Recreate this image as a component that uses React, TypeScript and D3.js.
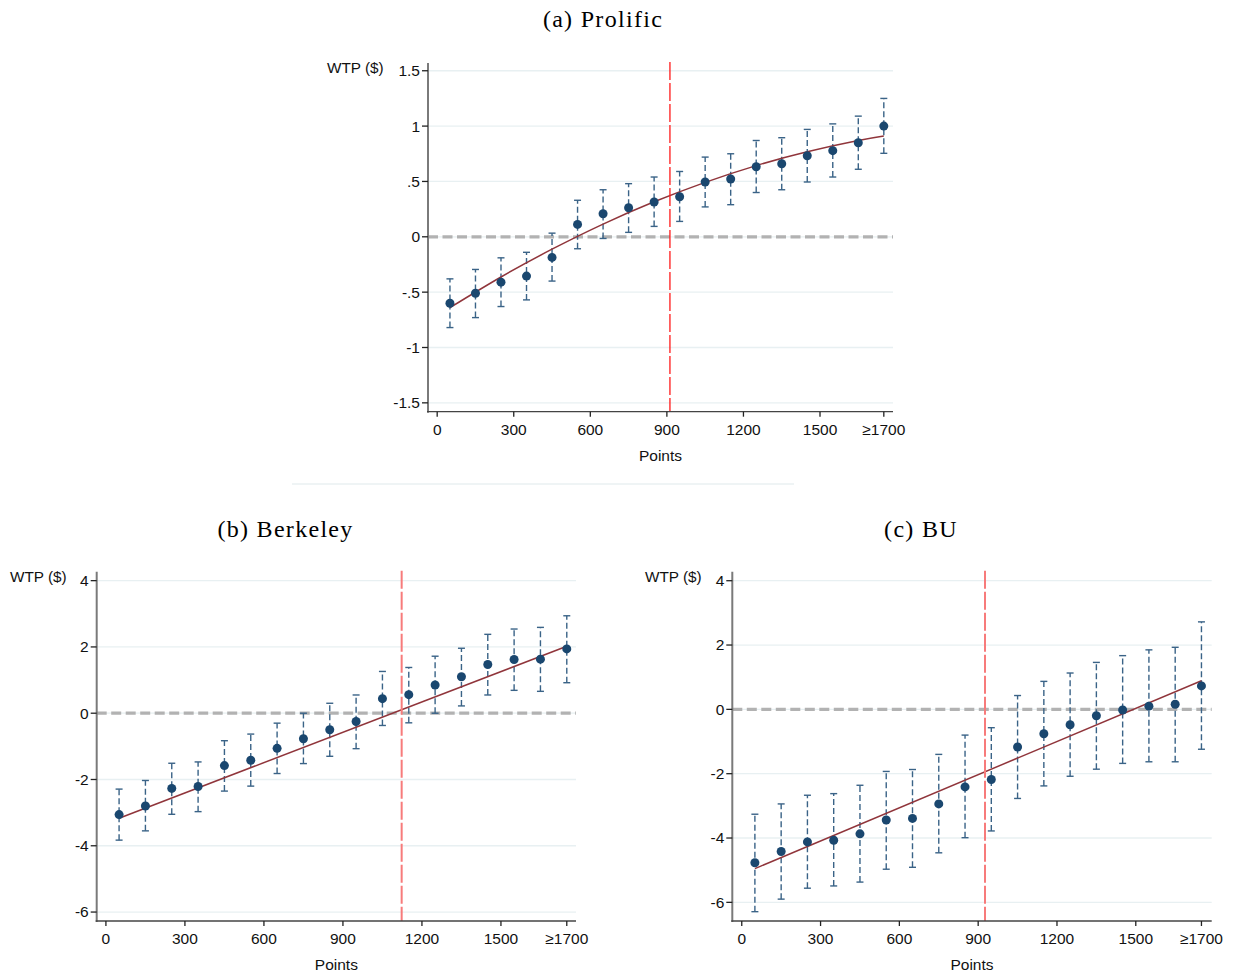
import React from "react";
import * as d3 from "d3";

// Bin midpoints (points) for every panel; the last bin is top-coded as ≥1700
const bins = [50, 150, 250, 350, 450, 550, 650, 750, 850, 950, 1050, 1150, 1250, 1350, 1450, 1550, 1650, 1750];
const xTickValues = [0, 300, 600, 900, 1200, 1500, 1750];
const xTickLabels = ["0", "300", "600", "900", "1200", "1500", "≥1700"];

// (a) Prolific
const prolificMean = [-0.60, -0.51, -0.41, -0.355, -0.186, 0.112, 0.208, 0.262, 0.314, 0.362, 0.495, 0.522, 0.633, 0.66, 0.732, 0.778, 0.85, 1.0];
const prolificLo = [-0.82, -0.73, -0.63, -0.57, -0.40, -0.108, -0.015, 0.04, 0.094, 0.139, 0.27, 0.29, 0.40, 0.425, 0.495, 0.54, 0.61, 0.754];
const prolificHi = [-0.38, -0.295, -0.19, -0.14, 0.033, 0.33, 0.425, 0.48, 0.54, 0.59, 0.72, 0.75, 0.87, 0.895, 0.97, 1.02, 1.09, 1.25];
const prolificFit: [number, number][] = [[50, -0.64], [250, -0.363], [450, -0.112], [650, 0.115], [850, 0.316], [1050, 0.492], [1250, 0.643], [1450, 0.768], [1650, 0.869], [1750, 0.91]];
const prolificYTicks = [1.5, 1, 0.5, 0, -0.5, -1, -1.5];
const prolificYLabels = ["1.5", "1", ".5", "0", "-.5", "-1", "-1.5"];
const prolificCutoff = 912;

// (b) Berkeley
const berkeleyMean = [-3.06, -2.80, -2.27, -2.21, -1.58, -1.42, -1.06, -0.77, -0.50, -0.25, 0.44, 0.56, 0.85, 1.10, 1.47, 1.62, 1.63, 1.94];
const berkeleyLo = [-3.83, -3.55, -3.05, -2.97, -2.35, -2.20, -1.82, -1.52, -1.30, -1.07, -0.37, -0.29, 0.0, 0.22, 0.55, 0.69, 0.66, 0.92];
const berkeleyHi = [-2.29, -2.03, -1.51, -1.47, -0.83, -0.63, -0.30, 0.0, 0.30, 0.55, 1.26, 1.38, 1.72, 1.96, 2.38, 2.54, 2.59, 2.94];
const berkeleyFit: [number, number][] = [[50, -3.17], [1750, 2.02]];
const berkeleyYTicks = [4, 2, 0, -2, -4, -6];
const berkeleyCutoff = 1123;

// (c) BU
const buMean = [-4.77, -4.42, -4.12, -4.07, -3.87, -3.44, -3.39, -2.94, -2.41, -2.18, -1.17, -0.76, -0.48, -0.20, -0.02, 0.10, 0.16, 0.73];
const buLo = [-6.29, -5.90, -5.56, -5.49, -5.37, -4.97, -4.91, -4.46, -3.99, -3.78, -2.77, -2.38, -2.08, -1.86, -1.68, -1.63, -1.63, -1.24];
const buHi = [-3.26, -2.94, -2.67, -2.62, -2.36, -1.93, -1.87, -1.40, -0.80, -0.57, 0.43, 0.87, 1.13, 1.46, 1.67, 1.85, 1.93, 2.72];
const buFit: [number, number][] = [[50, -4.95], [1750, 0.89]];
const buYTicks = [4, 2, 0, -2, -4, -6];
const buCutoff = 926;

const SANS = "'Liberation Sans', Arial, Helvetica, sans-serif";
const SERIF = "'Liberation Serif', 'DejaVu Serif', 'Times New Roman', serif";

const NAVY = "#1a476f";
const CI = "#3a6387";
const FIT = "#90353b";

type PanelProps = {
  title: string;
  titleX: number;
  titleY: number;
  left: number;
  right: number;
  top: number;
  bottom: number;
  xDomain: [number, number];
  yDomain: [number, number];
  mean: number[];
  lo: number[];
  hi: number[];
  fit: [number, number][];
  curved: boolean;
  yTicks: number[];
  yLabels: string[];
  cutoff: number;
  cutoffColor: string;
  cutoffWidth: number;
  ylabX: number;
};

function Panel(p: PanelProps) {
  const x = d3.scaleLinear().domain(p.xDomain).range([p.left, p.right]);
  const y = d3.scaleLinear().domain(p.yDomain).range([p.bottom, p.top]);
  const fitLine = d3
    .line<[number, number]>()
    .x((d) => x(d[0]))
    .y((d) => y(d[1]))
    .curve(p.curved ? d3.curveNatural : d3.curveLinear);

  return (
    <g>
      <text
        x={p.titleX}
        y={p.titleY}
        textAnchor="middle"
        fontFamily={SERIF}
        fontSize={24}
        letterSpacing={1.3}
        fill="#000"
      >
        {p.title}
      </text>

      {/* horizontal grid */}
      {p.yTicks.map((t) => (
        <line key={"g" + t} x1={p.left} x2={p.right} y1={y(t)} y2={y(t)} stroke="#e8f0f2" strokeWidth={1.3} />
      ))}

      {/* reference line at zero */}
      <line x1={p.left} x2={p.right} y1={y(0)} y2={y(0)} stroke="#b2b2b2" strokeWidth={3.2} strokeDasharray="10,4.5" />

      {/* confidence intervals */}
      {bins.map((b, i) => (
        <g key={"ci" + b}>
          <line x1={x(b)} x2={x(b)} y1={y(p.lo[i])} y2={y(p.hi[i])} stroke={CI} strokeWidth={1.4} strokeDasharray="6,3" />
          <line x1={x(b) - 3.5} x2={x(b) + 3.5} y1={y(p.lo[i])} y2={y(p.lo[i])} stroke={CI} strokeWidth={1.4} />
          <line x1={x(b) - 3.5} x2={x(b) + 3.5} y1={y(p.hi[i])} y2={y(p.hi[i])} stroke={CI} strokeWidth={1.4} />
        </g>
      ))}

      {/* fitted relationship */}
      <path d={fitLine(p.fit) ?? ""} fill="none" stroke={FIT} strokeWidth={1.5} />

      {/* bin means */}
      {bins.map((b, i) => (
        <circle key={"m" + b} cx={x(b)} cy={y(p.mean[i])} r={4.5} fill={NAVY} />
      ))}

      {/* cutoff */}
      <line
        x1={x(p.cutoff)}
        x2={x(p.cutoff)}
        y1={p.top - 1}
        y2={p.bottom}
        stroke={p.cutoffColor}
        strokeWidth={p.cutoffWidth}
        strokeDasharray="18,3"
      />

      {/* y axis */}
      <line x1={p.left} x2={p.left} y1={p.top} y2={p.bottom + 1} stroke="#7a7a7a" strokeWidth={2} />
      {p.yTicks.map((t, i) => (
        <g key={"yt" + t}>
          <line x1={p.left - 6} x2={p.left} y1={y(t)} y2={y(t)} stroke="#222" strokeWidth={1.3} />
          <text x={p.left - 8} y={y(t)} dy="0.35em" textAnchor="end" fontFamily={SANS} fontSize={15.5} fill="#111">
            {p.yLabels[i]}
          </text>
        </g>
      ))}
      <text x={p.ylabX} y={p.top + 5} dy="0.35em" fontFamily={SANS} fontSize={15.3} fill="#111">
        WTP ($)
      </text>

      {/* x axis */}
      <line x1={p.left - 1} x2={p.right} y1={p.bottom} y2={p.bottom} stroke="#444" strokeWidth={1.3} />
      {xTickValues.map((t, i) => (
        <g key={"xt" + t}>
          <line x1={x(t)} x2={x(t)} y1={p.bottom} y2={p.bottom + 5} stroke="#222" strokeWidth={1.3} />
          <text x={x(t)} y={p.bottom + 23} textAnchor="middle" fontFamily={SANS} fontSize={15.5} fill="#111">
            {xTickLabels[i]}
          </text>
        </g>
      ))}
      <text x={(p.left + p.right) / 2} y={p.bottom + 49} textAnchor="middle" fontFamily={SANS} fontSize={15.5} fill="#111">
        Points
      </text>
    </g>
  );
}

export default function App() {
  const fmtB = berkeleyYTicks.map((t) => String(t));
  const fmtC = buYTicks.map((t) => String(t));
  return (
    <svg width={1233} height={976} style={{ display: "block", position: "absolute", left: 0, top: 0, background: "#fff" }}>
      <rect width={1233} height={976} fill="#fff" />
      <Panel
        title="(a) Prolific"
        titleX={603}
        titleY={27}
        left={428}
        right={893}
        top={63}
        bottom={411.7}
        xDomain={[-36, 1786]}
        yDomain={[-1.58, 1.57]}
        mean={prolificMean}
        lo={prolificLo}
        hi={prolificHi}
        fit={prolificFit}
        curved={true}
        yTicks={prolificYTicks}
        yLabels={prolificYLabels}
        cutoff={prolificCutoff}
        cutoffColor="#ff1a1a"
        cutoffWidth={1.3}
        ylabX={327}
      />
      <line x1={292} x2={794} y1={484} y2={484} stroke="#eaf0f2" strokeWidth={1.3} />
      <Panel
        title="(b) Berkeley"
        titleX={285.5}
        titleY={537}
        left={96.7}
        right={576}
        top={571.7}
        bottom={921}
        xDomain={[-35, 1785]}
        yDomain={[-6.27, 4.27]}
        mean={berkeleyMean}
        lo={berkeleyLo}
        hi={berkeleyHi}
        fit={berkeleyFit}
        curved={false}
        yTicks={berkeleyYTicks}
        yLabels={fmtB}
        cutoff={berkeleyCutoff}
        cutoffColor="#f77b7b"
        cutoffWidth={2}
        ylabX={10}
      />
      <Panel
        title="(c) BU"
        titleX={921}
        titleY={537}
        left={732.3}
        right={1211.7}
        top={571.7}
        bottom={921}
        xDomain={[-36, 1789]}
        yDomain={[-6.58, 4.28]}
        mean={buMean}
        lo={buLo}
        hi={buHi}
        fit={buFit}
        curved={false}
        yTicks={buYTicks}
        yLabels={fmtC}
        cutoff={buCutoff}
        cutoffColor="#f77b7b"
        cutoffWidth={2}
        ylabX={645}
      />
    </svg>
  );
}
